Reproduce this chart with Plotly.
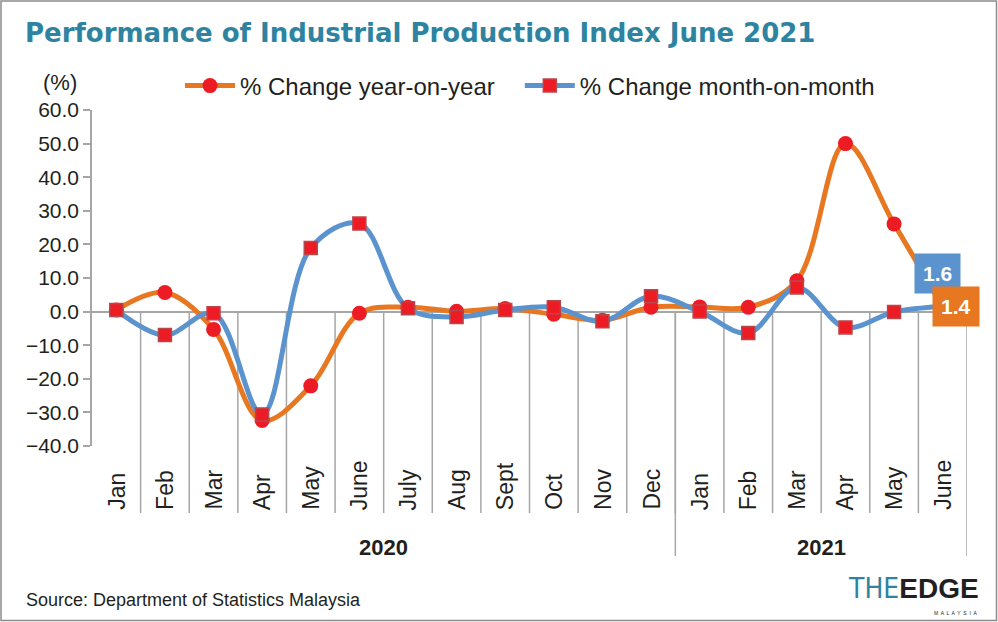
import plotly.graph_objects as go

months = ["Jan", "Feb", "Mar", "Apr", "May", "June", "July", "Aug", "Sept", "Oct", "Nov", "Dec",
          "Jan", "Feb", "Mar", "Apr", "May", "June"]
year_labels = ["2020", "2021"]
year_counts = [12, 6]
yoy = [0.5, 5.7, -5.3, -32.4, -22.1, -0.5, 1.3, 0.1, 0.9, -0.8, -2.6, 1.3, 1.4, 1.3, 9.2, 50.0, 26.1, 1.4]
mom = [0.5, -7.0, -0.5, -30.6, 18.9, 26.2, 1.0, -1.6, 0.5, 1.3, -2.9, 4.6, 0.0, -6.4, 7.2, -4.7, -0.1, 1.6]
y_ticks = [60, 50, 40, 30, 20, 10, 0, -10, -20, -30, -40]

FONT = "Liberation Sans, Arial, Helvetica, sans-serif"
ORANGE = "#E87722"
BLUE = "#5B93CE"
RED = "#ED1C24"
TEAL = "#2E84A0"
GRID = "#A6A6A6"
INK = "#231F20"

W, H = 998, 622
ML, MR, MT, MB = 92, 31, 110, 176
PW, PH = W - ML - MR, H - MT - MB
ymin, ymax = -40, 60
x = list(range(len(months)))

def py(px):  # pixel row -> paper y
    return (H - MB - px) / PH

def pxx(px):  # pixel col -> paper x
    return (px - ML) / PW

fig = go.Figure()
fig.add_trace(go.Scatter(
    x=x, y=yoy, name="% Change year-on-year" + "\u00a0" * 3, mode="lines+markers",
    line=dict(color=ORANGE, width=5, shape="spline", smoothing=1.0),
    marker=dict(symbol="circle", size=15, color=RED, line=dict(width=0)),
    cliponaxis=False))
fig.add_trace(go.Scatter(
    x=x, y=mom, name="% Change month-on-month", mode="lines+markers",
    line=dict(color=BLUE, width=5, shape="spline", smoothing=1.0),
    marker=dict(symbol="square", size=13, color=RED, line=dict(width=1.5, color="#B8474C")),
    cliponaxis=False))

zero_frac = (0 - ymin) / (ymax - ymin)
shapes = []
for i in range(len(months) - 1):
    b = i + 0.5
    shapes.append(dict(type="line", xref="x", yref="paper", x0=b, x1=b, y0=zero_frac, y1=py(513),
                       line=dict(color=GRID, width=1.5), layer="below"))
pos = -0.5
for c in year_counts:
    pos += c
    shapes.append(dict(type="line", xref="x", yref="paper", x0=pos, x1=pos, y0=zero_frac, y1=py(556),
                       line=dict(color=GRID, width=1.5), layer="below"))
shapes.append(dict(type="rect", xref="paper", yref="paper", x0=pxx(1), x1=pxx(996.5), y0=py(620.5), y1=py(1),
                   line=dict(color="#8C8C8C", width=1.5), fillcolor="rgba(0,0,0,0)"))

annotations = []
for i, m in enumerate(months):
    annotations.append(dict(x=i, y=py(512), xref="x", yref="paper", text=m, showarrow=False,
                            textangle=-90, xanchor="center", yanchor="bottom",
                            font=dict(family=FONT, size=23, color=INK)))
start = 0
for lab, c in zip(year_labels, year_counts):
    annotations.append(dict(x=start + (c - 1) / 2, y=py(547), xref="x", yref="paper", text="<b>" + lab + "</b>",
                            showarrow=False, xanchor="center", yanchor="middle",
                            font=dict(family=FONT, size=22, color=INK)))
    start += c
annotations.append(dict(x=pxx(60), y=py(82), xref="paper", yref="paper", text="(%)", showarrow=False,
                        xanchor="center", yanchor="middle", font=dict(family=FONT, size=22, color=INK)))
annotations.append(dict(x=pxx(24), y=py(600), xref="paper", yref="paper",
                        text="Source: Department of Statistics Malaysia", showarrow=False,
                        xanchor="left", yanchor="middle", font=dict(family=FONT, size=18, color=INK)))
annotations.append(dict(x=pxx(981), y=py(607), xref="paper", yref="paper",
                        text="<span style=\"color:#2E84A0;font-family:'Liberation Sans Narrow','DejaVu Sans Condensed','Liberation Sans',sans-serif\">THE</span><b>EDGE</b>",
                        showarrow=False, xanchor="right", yanchor="bottom",
                        font=dict(family=FONT, size=28, color=INK)))
annotations.append(dict(x=pxx(979), y=py(608), xref="paper", yref="paper",
                        text="M  A  L  A  Y  S  I  A", showarrow=False,
                        xanchor="right", yanchor="top", font=dict(family=FONT, size=5, color=INK)))
last = len(months) - 1
annotations.append(dict(x=last, y=mom[last], xref="x", yref="y", text="<b>%.1f</b>" % mom[last],
                        showarrow=True, arrowhead=0, arrowwidth=1.2, arrowcolor=INK,
                        ax=-5, ay=-33, bgcolor=BLUE, borderpad=8,
                        font=dict(family=FONT, size=21, color="white")))
annotations.append(dict(x=last, y=yoy[last], xref="x", yref="y", text="<b>%.1f</b>" % yoy[last],
                        showarrow=False, xshift=13, bgcolor=ORANGE, borderpad=8,
                        font=dict(family=FONT, size=21, color="white")))

fig.update_layout(
    width=W, height=H,
    margin=dict(l=ML, r=MR, t=MT, b=MB),
    paper_bgcolor="white", plot_bgcolor="white",
    title=dict(text="<b>Performance of Industrial Production Index June 2021</b>",
               x=25 / W, xanchor="left", y=1 - 33 / H, yanchor="middle",
               font=dict(family="DejaVu Sans, " + FONT, size=26, color=TEAL)),
    legend=dict(orientation="h", x=pxx(180), y=py(86), xanchor="left", yanchor="middle",
                font=dict(family=FONT, size=24, color=INK), itemwidth=50,
                bgcolor="rgba(0,0,0,0)"),
    xaxis=dict(range=[-0.5, len(months) - 0.5], showticklabels=False, showgrid=False,
               zeroline=False, showline=False, ticks="", fixedrange=True),
    yaxis=dict(range=[ymin, ymax], tickvals=y_ticks, tickformat=".1f", showgrid=False,
               zeroline=True, zerolinecolor=GRID, zerolinewidth=1.5,
               showline=True, linecolor=GRID, linewidth=1.5, ticks="outside", ticklen=7,
               tickcolor=GRID, tickwidth=1.5,
               tickfont=dict(family=FONT, size=21, color=INK)),
    shapes=shapes, annotations=annotations, showlegend=True,
)
fig.write_html("out.html", config={"displayModeBar": False},
               post_script="document.body.style.margin='0';document.body.style.overflow='hidden';")
